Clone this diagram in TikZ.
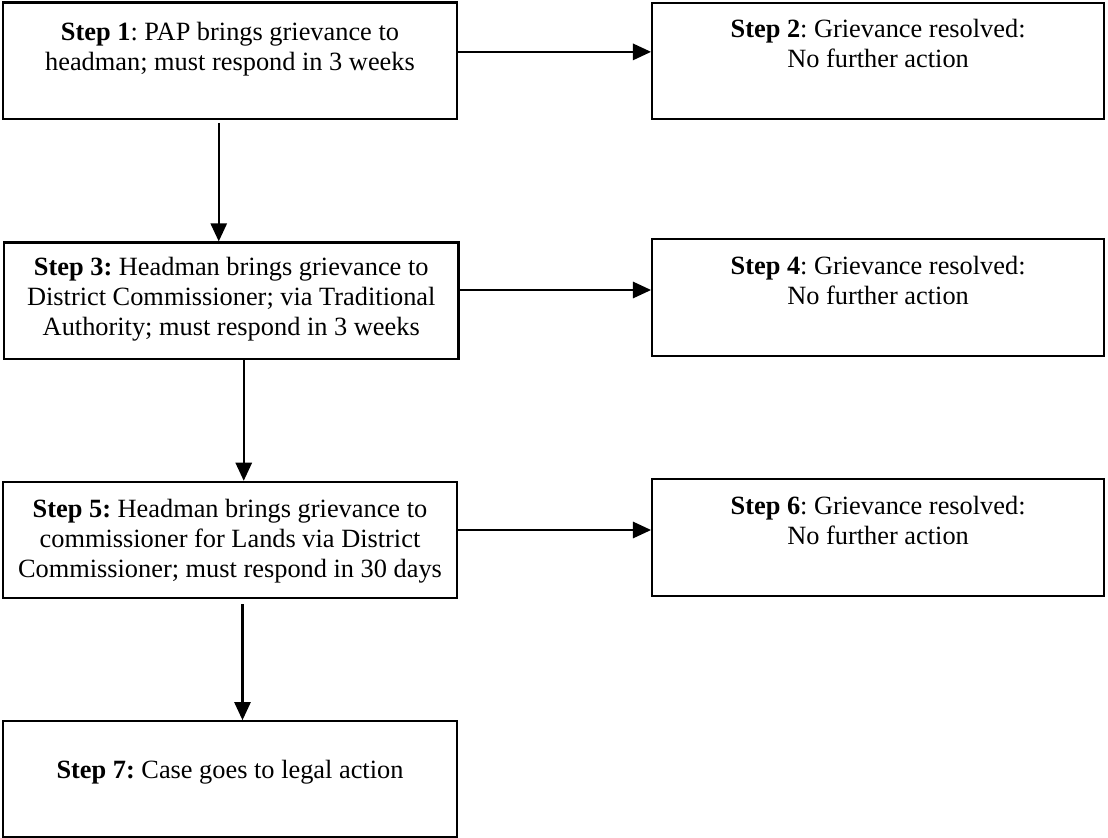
\documentclass[tikz,border=0pt]{standalone}
\usepackage{fontspec}
\setmainfont{Liberation Serif}
\frenchspacing
\usetikzlibrary{
  arrows.meta,
  positioning
}

\begin{document}
\begin{tikzpicture}[
  every node/.style={font=\fontsize{12}{13.7}\selectfont},
  stepbox/.style={draw, line width=1pt, minimum width=7.27cm, minimum height=1.86cm, inner sep=0pt},
  resbox/.style={stepbox, minimum width=7.23cm},
  steptext/.style={align=center, inner sep=0pt},
  flow/.style={-{Triangle[length=0.29cm, width=0.26cm]}, line width=1pt},
  >=Stealth
]
\useasboundingbox (0,0) rectangle (17.728,-13.408);

% left column
\node[stepbox] (s1) at (3.68, -0.97) {};
\node[stepbox] (s3) at (3.70, -4.81) {};
\node[stepbox] (s5) at (3.68, -8.64) {};
\node[stepbox] (s7) at (3.68, -12.47) {};

% right column
\node[resbox] (s2) at (14.05, -0.98) {};
\node[resbox] (s4) at (14.05, -4.76) {};
\node[resbox] (s6) at (14.05, -8.60) {};

% texts
\node[steptext, below=0.32cm of s1.north] (t1) {\textbf{Step 1}: PAP brings grievance to\\headman; must respond in 3 weeks};
\node[steptext, below=0.26cm of s2.north] (t2) {\textbf{Step 2}: Grievance resolved:\\No further action};
\node[steptext, below=0.25cm of s3.north] (t3) {\textbf{Step 3:} Headman brings grievance to\\District Commissioner; via Traditional\\Authority; must respond in 3 weeks};
\node[steptext, below=0.28cm of s4.north] (t4) {\textbf{Step 4}: Grievance resolved:\\No further action};
\node[steptext, below=0.28cm of s5.north] (t5) {\textbf{Step 5:} Headman brings grievance to\\commissioner for Lands via District\\Commissioner; must respond in 30 days};
\node[steptext, below=0.28cm of s6.north] (t6) {\textbf{Step 6}: Grievance resolved:\\No further action};
\node[steptext, below=0.64cm of s7.north] (t7) {\textbf{Step 7:} Case goes to legal action};

% connectors
\draw[flow] ([yshift=0.14cm]s1.east) -- ([yshift=0.14cm]s1.east -| s2.west);
\draw[flow] ([yshift=0.17cm]s3.east) -- ([yshift=0.17cm]s3.east -| s4.west);
\draw[flow] ([yshift=0.16cm]s5.east) -- ([yshift=0.16cm]s5.east -| s6.west);

\draw[flow] ([xshift=-0.18cm, yshift=-0.05cm]s1.south) -- ([xshift=-0.18cm]s1.south |- s3.north);
\draw[flow] ([xshift=0.20cm]s3.south) -- ([xshift=0.20cm]s3.south |- s5.north);
\draw[flow] ([xshift=0.20cm, yshift=-0.08cm]s5.south) -- ([xshift=0.20cm]s5.south |- s7.north);

\end{tikzpicture}
\end{document}
